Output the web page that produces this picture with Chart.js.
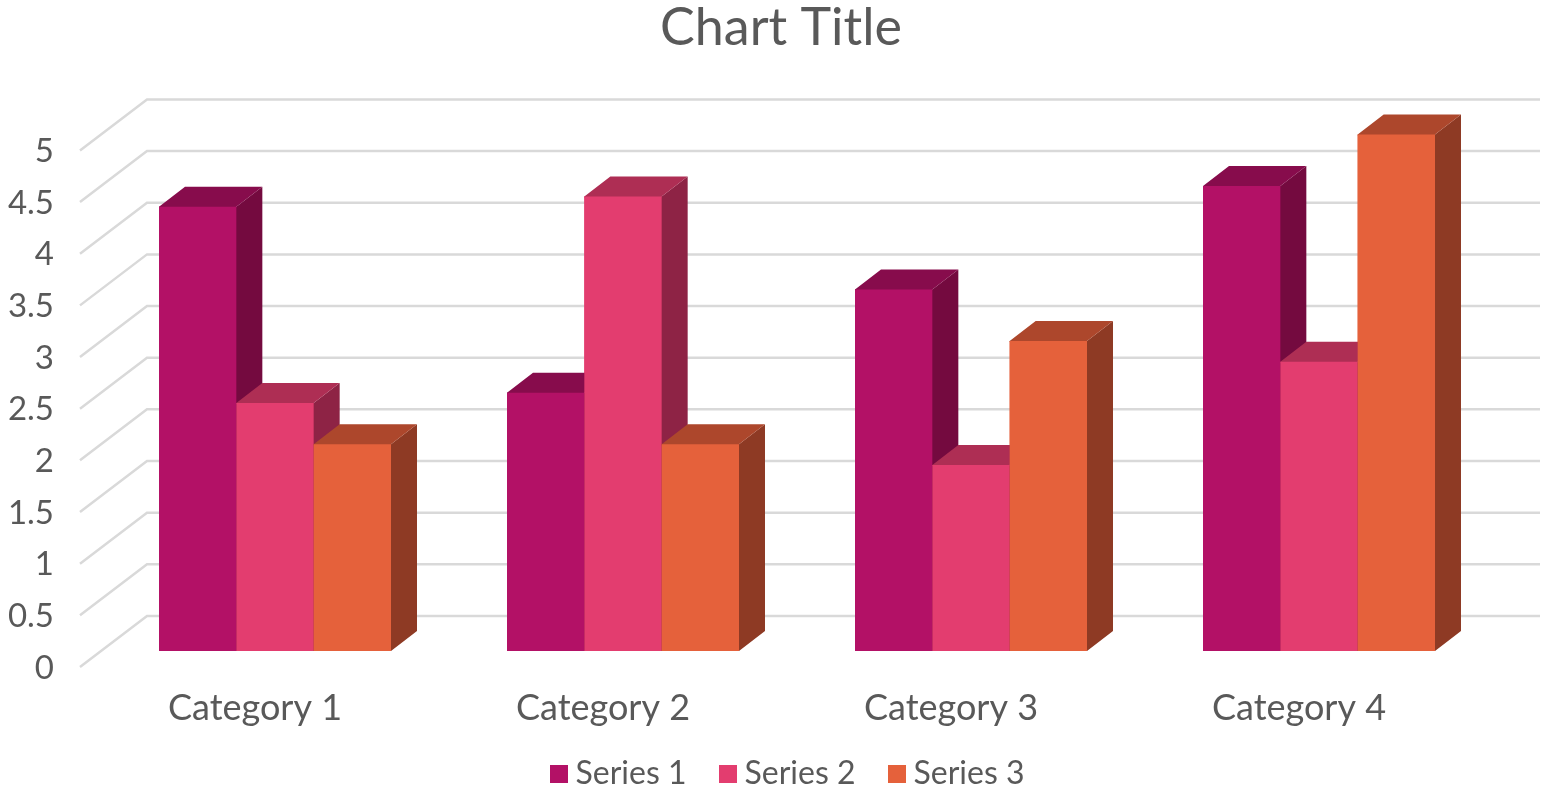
<!DOCTYPE html>
<html><head><meta charset="utf-8">
<style>html,body{margin:0;padding:0;background:#fff;overflow:hidden}canvas{display:block}</style>
<script src="https://cdn.jsdelivr.net/npm/chart.js@4"></script>
</head><body><canvas id="c" width="1545" height="791"></canvas>
<script>
const categories = ['Category 1','Category 2','Category 3','Category 4'];
const seriesNames = ['Series 1','Series 2','Series 3'];
const series1 = [4.3,2.5,3.5,4.5];
const series2 = [2.4,4.4,1.8,2.8];
const series3 = [2,2,3,5];
const frontColors = ['#B31166','#E33D6F','#E5613B'];
const topColors = ['#870C4C','#AE2E54','#AD472C'];
const sideColors = ['#740A3F','#8E2345','#8E3A24'];
const FONT = 'Lato, "Open Sans", sans-serif';
const TEXT = '#595959';
const GRID = '#D9D9D9';
const DEPTH = {dx:26, dy:-20};
const WALL = {dx:46, dy:-35, endRight:47, frontX:80, frontDy:51};

const swatches = frontColors.map(col=>{
  const s=document.createElement('canvas'); s.width=18; s.height=18;
  const g=s.getContext('2d'); g.fillStyle=col; g.fillRect(0,0,18,18); return s;
});

const wall3d = {
  id:'wall3d',
  afterLayout(chart){
    chart.titleBlock.left += 69;
    chart.legend.left += 45;
    chart.legend.right += 45;
    chart.legend.top += 9;
    chart.legend.bottom += 9;
    chart.scales.x.bottom = 791;
  },
  beforeDatasetsDraw(chart){
    const {ctx, chartArea:a, scales:{y}} = chart;
    ctx.save();
    ctx.strokeStyle = GRID; ctx.lineWidth = 2.5;
    y.ticks.forEach(t=>{
      const py = y.getPixelForValue(t.value) + WALL.dy;
      ctx.beginPath();
      ctx.moveTo(WALL.frontX, py+WALL.frontDy);
      ctx.lineTo(a.left+WALL.dx, py);
      ctx.lineTo(a.right+WALL.endRight, py);
      ctx.stroke();
    });
    ctx.restore();
  },
  afterDatasetsDraw(chart){
    const ctx = chart.ctx;
    const poly = (pts,col)=>{
      ctx.fillStyle=col; ctx.beginPath();
      pts.forEach((p,i)=> i? ctx.lineTo(p[0],p[1]) : ctx.moveTo(p[0],p[1]));
      ctx.closePath(); ctx.fill();
    };
    categories.forEach((_,ci)=>{
      chart.data.datasets.forEach((ds,di)=>{
        const el = chart.getDatasetMeta(di).data[ci];
        const {x,y,base,width} = el.getProps(['x','y','base','width'],true);
        const l=x-width/2, r=x+width/2, {dx,dy}=DEPTH;
        poly([[r-1,y],[r,y],[r+dx,y+dy],[r+dx,base+dy],[r,base],[r-1,base]], sideColors[di]);
        poly([[l,y+1],[l,y],[l+dx,y+dy],[r+dx,y+dy],[r,y],[r,y+1]], topColors[di]);
        el.draw(ctx);
      });
    });
  }
};

new Chart(document.getElementById('c'),{
  type:'bar',
  data:{
    labels:categories,
    datasets:[series1,series2,series3].map((d,i)=>({
      label:seriesNames[i], data:d, backgroundColor:frontColors[i], borderWidth:0,
      barPercentage:1, categoryPercentage:232/348
    }))
  },
  plugins:[wall3d],
  options:{
    responsive:false, animation:false,
    layout:{padding:{left:0,right:52,top:0,bottom:0}},
    plugins:{
      tooltip:{enabled:false},
      title:{display:true,text:'Chart Title',color:TEXT,
        font:{family:FONT,size:52,weight:'normal'},padding:{top:-3,bottom:75}},
      legend:{display:true,position:'bottom',
        labels:{color:TEXT,font:{family:FONT,size:32},usePointStyle:true,pointStyleWidth:1,boxHeight:18,padding:41,
          generateLabels(chart){
            return Chart.defaults.plugins.legend.labels.generateLabels(chart)
              .map((it,i)=>({...it,pointStyle:swatches[i]}));
          }}}
    },
    scales:{
      x:{grid:{display:false},border:{display:false},
        ticks:{color:TEXT,font:{family:FONT,size:36},padding:28,labelOffset:-20,autoSkip:false,maxRotation:0,minRotation:0},
        afterFit(s){ s.height = 140 - s.chart.legend.height; }},
      y:{min:0,max:5,grid:{display:false,drawTicks:false},border:{display:false},
        ticks:{stepSize:0.5,color:TEXT,font:{family:FONT,size:33},padding:47,labelOffset:17,callback:v=>String(v)},
        afterFit(s){ s.width = 101; }}
    }
  }
});
</script></body></html>
